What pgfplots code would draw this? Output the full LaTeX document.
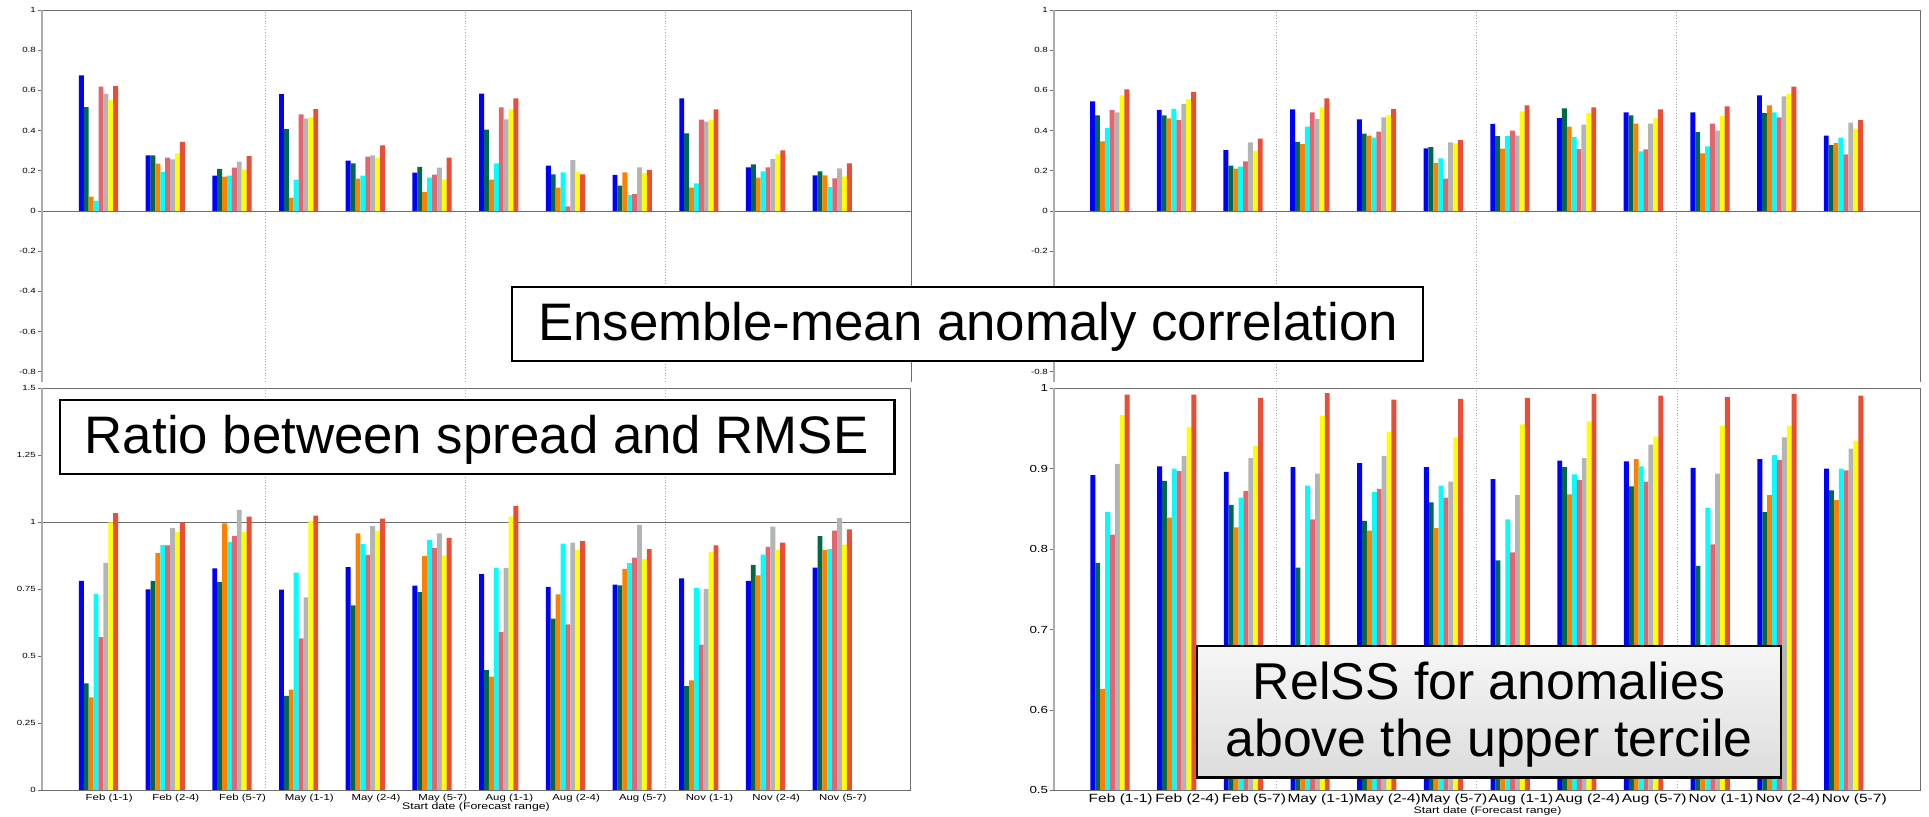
\documentclass[border=0pt]{standalone}
\usepackage{fontspec}
\setmainfont{Liberation Sans}
\newfontfamily\tickfont[FakeStretch=1.3]{Liberation Sans}
\usepackage{pgfplots}
\usepackage{pgfplotstable}
\pgfplotsset{compat=1.18}

\definecolor{cB}{RGB}{0,0,255}
\definecolor{cG}{RGB}{0,106,72}
\definecolor{cO}{RGB}{255,128,0}
\definecolor{cC}{RGB}{0,255,255}
\definecolor{cP}{RGB}{228,100,112}
\definecolor{cS}{RGB}{180,180,180}
\definecolor{cY}{RGB}{255,255,0}
\definecolor{cR}{RGB}{234,78,56}
\definecolor{frame}{RGB}{110,110,110}

\pgfplotscreateplotcyclelist{ens}{
{fill=cB,draw=none},{fill=cG,draw=none},{fill=cO,draw=none},{fill=cC,draw=none},
{fill=cP,draw=none},{fill=cS,draw=none},{fill=cY,draw=none},{fill=cR,draw=none}}

% ensemble-mean anomaly correlation, left
\pgfplotstableread{
x  b     g     o     c     p     s     w     r
1  0.674 0.517 0.071 0.051 0.619 0.583 0.551 0.621
2  0.276 0.276 0.235 0.194 0.265 0.257 0.286 0.344
3  0.175 0.209 0.171 0.175 0.215 0.245 0.207 0.273
4  0.581 0.407 0.066 0.156 0.480 0.459 0.465 0.507
5  0.250 0.237 0.161 0.175 0.270 0.276 0.263 0.326
6  0.190 0.219 0.094 0.166 0.180 0.215 0.157 0.265
7  0.584 0.404 0.156 0.237 0.515 0.455 0.505 0.560
8  0.225 0.182 0.116 0.192 0.023 0.253 0.195 0.182
9  0.179 0.126 0.192 0.079 0.083 0.217 0.189 0.204
10 0.560 0.386 0.116 0.137 0.454 0.444 0.454 0.505
11 0.217 0.232 0.166 0.197 0.217 0.258 0.281 0.301
12 0.177 0.197 0.177 0.118 0.162 0.212 0.172 0.237
}\tA

% ensemble-mean anomaly correlation, right
\pgfplotstableread{
x  b     g     o     c     p     s     w     r
1  0.545 0.475 0.346 0.412 0.502 0.490 0.575 0.605
2  0.503 0.475 0.460 0.508 0.452 0.533 0.556 0.593
3  0.302 0.226 0.211 0.221 0.246 0.341 0.299 0.360
4  0.505 0.344 0.332 0.420 0.490 0.457 0.515 0.560
5  0.455 0.385 0.375 0.365 0.395 0.465 0.477 0.507
6  0.311 0.317 0.239 0.261 0.161 0.341 0.336 0.352
7  0.433 0.372 0.310 0.372 0.400 0.375 0.495 0.525
8  0.462 0.510 0.420 0.369 0.307 0.430 0.488 0.515
9  0.490 0.475 0.435 0.296 0.306 0.435 0.460 0.505
10 0.490 0.392 0.286 0.321 0.435 0.400 0.472 0.520
11 0.575 0.487 0.525 0.490 0.465 0.570 0.583 0.619
12 0.375 0.327 0.339 0.365 0.282 0.440 0.410 0.452
}\tB

% spread / RMSE
\pgfplotstableread{
x  b     g     o     c     p     s     w     r
1  0.781 0.399 0.347 0.733 0.572 0.849 1.000 1.034
2  0.750 0.781 0.886 0.915 0.914 0.979 0.964 1.000
3  0.828 0.777 0.996 0.927 0.949 1.046 0.964 1.021
4  0.749 0.352 0.376 0.812 0.567 0.720 1.006 1.025
5  0.833 0.690 0.959 0.919 0.878 0.986 0.968 1.014
6  0.764 0.739 0.874 0.934 0.904 0.959 0.877 0.942
7  0.807 0.448 0.424 0.830 0.591 0.830 1.021 1.061
8  0.759 0.641 0.731 0.920 0.619 0.924 0.897 0.930
9  0.767 0.765 0.826 0.848 0.868 0.990 0.863 0.900
10 0.791 0.389 0.410 0.755 0.544 0.752 0.889 0.914
11 0.781 0.841 0.802 0.879 0.908 0.984 0.898 0.924
12 0.831 0.948 0.897 0.900 0.969 1.016 0.917 0.974
}\tC

% RelSS upper tercile
\pgfplotstableread{
x  b     g     o     c     p     s     w     r
1  0.892 0.783 0.626 0.846 0.818 0.906 0.967 0.992
2  0.903 0.885 0.839 0.900 0.897 0.916 0.952 0.992
3  0.896 0.855 0.827 0.864 0.872 0.913 0.928 0.988
4  0.902 0.777 0.620 0.879 0.837 0.894 0.966 0.994
5  0.907 0.835 0.823 0.871 0.875 0.916 0.946 0.986
6  0.902 0.858 0.826 0.879 0.864 0.884 0.939 0.987
7  0.887 0.786 0.640 0.837 0.796 0.867 0.955 0.988
8  0.910 0.902 0.868 0.893 0.886 0.913 0.959 0.993
9  0.909 0.878 0.912 0.903 0.884 0.930 0.940 0.991
10 0.901 0.779 0.630 0.851 0.806 0.894 0.953 0.989
11 0.912 0.846 0.867 0.917 0.911 0.939 0.953 0.993
12 0.900 0.873 0.861 0.900 0.898 0.925 0.935 0.991
}\tD

\pgfplotsset{
  panel/.style={
    scale only axis, anchor=south west,
    ybar=0pt, bar width=4.9bp,
    cycle list name=ens,
    axis line style={draw=none},
    clip mode=individual,
    tick align=outside,
    ytick pos=left,
    major tick length=4.5bp,
    ytick style={draw=frame, line width=0.6bp},
    xtick style={draw=none},
    yticklabel style={font=\tickfont\fontsize{7.5}{8}\selectfont, inner sep=1.5bp},
  },
  dates/.style={
    xtick={1.16,2.16,3.16,4.16,5.16,6.16,7.16,8.16,9.16,10.16,11.16,12.16},
    xticklabels={Feb (1-1),Feb (2-4),Feb (5-7),May (1-1),May (2-4),May (5-7),
                 Aug (1-1),Aug (2-4),Aug (5-7),Nov (1-1),Nov (2-4),Nov (5-7)},
    xlabel={Start date (Forecast range)},
  },
}

\begin{document}
\begin{tikzpicture}
\path[use as bounding box] (0,0) rectangle (1929bp,817bp);

% top left
\begin{axis}[panel, at={(42bp,435.3bp)}, width=869bp, height=371.7bp,
  xmin=0.153, xmax=13.18, ymin=-0.85, ymax=1, xtick=\empty,
  ytick={-0.8,-0.6,-0.4,-0.2,0,0.2,0.4,0.6,0.8,1},
  yticklabels={-0.8,-0.6,-0.4,-0.2,0,0.2,0.4,0.6,0.8,1}]
\draw[gray!70, dotted, line width=0.8bp] (axis cs:3.5,-0.85) -- (axis cs:3.5,1);
\draw[gray!70, dotted, line width=0.8bp] (axis cs:6.5,-0.85) -- (axis cs:6.5,1);
\draw[gray!70, dotted, line width=0.8bp] (axis cs:9.5,-0.85) -- (axis cs:9.5,1);
\draw[frame, line width=0.6bp] (axis cs:0.153,0) -- (axis cs:13.18,0);
\pgfplotsinvokeforeach{b,g,o,c,p,s,w,r}{\addplot table[x=x,y=#1]{\tA};}
\draw[frame, line width=0.6bp] (rel axis cs:0,1) -- (rel axis cs:1,1) -- (rel axis cs:1,0);
\draw[gray!65, line width=2.2bp] (rel axis cs:0,0) -- (rel axis cs:0,1);
\end{axis}

% top right
\begin{axis}[panel, at={(1054bp,435.3bp)}, width=866.7bp, height=371.7bp,
  xmin=0.165, xmax=13.16, ymin=-0.85, ymax=1, xtick=\empty,
  ytick={-0.8,-0.6,-0.4,-0.2,0,0.2,0.4,0.6,0.8,1},
  yticklabels={-0.8,-0.6,-0.4,-0.2,0,0.2,0.4,0.6,0.8,1}]
\draw[gray!70, dotted, line width=0.8bp] (axis cs:3.5,-0.85) -- (axis cs:3.5,1);
\draw[gray!70, dotted, line width=0.8bp] (axis cs:6.5,-0.85) -- (axis cs:6.5,1);
\draw[gray!70, dotted, line width=0.8bp] (axis cs:9.5,-0.85) -- (axis cs:9.5,1);
\draw[frame, line width=0.6bp] (axis cs:0.165,0) -- (axis cs:13.16,0);
\pgfplotsinvokeforeach{b,g,o,c,p,s,w,r}{\addplot table[x=x,y=#1]{\tB};}
\draw[frame, line width=0.6bp] (rel axis cs:0,1) -- (rel axis cs:1,1) -- (rel axis cs:1,0);
\draw[gray!65, line width=2.2bp] (rel axis cs:0,0) -- (rel axis cs:0,1);
\end{axis}

% bottom left
\begin{axis}[panel, dates, at={(42bp,26.7bp)}, width=868bp, height=402bp,
  xmin=0.153, xmax=13.166, ymin=0, ymax=1.5,
  ytick={0,0.25,0.5,0.75,1,1.25,1.5},
  yticklabels={0,0.25,0.5,0.75,1,1.25,1.5},
  xticklabel style={font=\tickfont\fontsize{8.8}{9}\selectfont, inner sep=0pt, yshift=1bp},
  xlabel style={font=\tickfont\fontsize{9.5}{10}\selectfont, at={(axis description cs:0.5,0)},
    anchor=north, inner sep=0pt, yshift=-12bp}]
\draw[gray!70, dotted, line width=0.8bp] (axis cs:3.5,0) -- (axis cs:3.5,1.5);
\draw[gray!70, dotted, line width=0.8bp] (axis cs:6.5,0) -- (axis cs:6.5,1.5);
\draw[gray!70, dotted, line width=0.8bp] (axis cs:9.5,0) -- (axis cs:9.5,1.5);
\draw[frame, line width=0.6bp] (axis cs:0.153,1) -- (axis cs:13.166,1);
\pgfplotsinvokeforeach{b,g,o,c,p,s,w,r}{\addplot table[x=x,y=#1]{\tC};}
\draw[frame, line width=0.6bp] (rel axis cs:0,1) -- (rel axis cs:1,1) -- (rel axis cs:1,0) -- (rel axis cs:0,0);
\draw[gray!65, line width=2.2bp] (rel axis cs:0,0) -- (rel axis cs:0,1);
\end{axis}

% bottom right
\begin{axis}[panel, dates, at={(1054.3bp,26.7bp)}, width=866.4bp, height=402bp,
  xmin=0.165, xmax=13.155, ymin=0.5, ymax=1,
  ytick={0.5,0.6,0.7,0.8,0.9,1},
  yticklabels={0.5,0.6,0.7,0.8,0.9,1},
  yticklabel style={font=\tickfont\fontsize{10.3}{11}\selectfont},
  xticklabel style={font=\tickfont\fontsize{12}{12}\selectfont, inner sep=0pt, yshift=1bp},
  xlabel style={font=\tickfont\fontsize{9.5}{10}\selectfont, at={(axis description cs:0.5,0)},
    anchor=north, inner sep=0pt, yshift=-16.5bp}]
\draw[gray!70, dotted, line width=0.8bp] (axis cs:3.5,0.5) -- (axis cs:3.5,1);
\draw[gray!70, dotted, line width=0.8bp] (axis cs:6.5,0.5) -- (axis cs:6.5,1);
\draw[gray!70, dotted, line width=0.8bp] (axis cs:9.5,0.5) -- (axis cs:9.5,1);
\pgfplotsinvokeforeach{b,g,o,c,p,s,w,r}{\addplot table[x=x,y=#1]{\tD};}
\draw[frame, line width=0.6bp] (rel axis cs:0,1) -- (rel axis cs:1,1) -- (rel axis cs:1,0) -- (rel axis cs:0,0);
\draw[gray!65, line width=2.2bp] (rel axis cs:0,0) -- (rel axis cs:0,1);
\end{axis}

% caption boxes
\draw[line width=2.4bp, fill=white] (512bp,456bp) rectangle (1423bp,530bp);
\node[anchor=base, inner sep=0pt, font=\fontsize{53}{60}\selectfont] at (968bp,476.3bp)
  {Ensemble-mean anomaly correlation};
\draw[line width=2.4bp, fill=white] (60bp,342.7bp) rectangle (894.3bp,417bp);
\node[anchor=base, inner sep=0pt, font=\fontsize{53}{60}\selectfont] at (476.7bp,363bp)
  {Ratio between spread and RMSE};
\draw[line width=2.4bp, top color=gray!7, bottom color=gray!27] (1196.7bp,39.3bp) rectangle (1780.7bp,171bp);
\node[anchor=base, inner sep=0pt, font=\fontsize{52}{60}\selectfont] at (1489bp,117.7bp)
  {RelSS for anomalies};
\node[anchor=base, inner sep=0pt, font=\fontsize{52}{60}\selectfont] at (1489bp,60.3bp)
  {above the upper tercile};
\end{tikzpicture}
\end{document}
